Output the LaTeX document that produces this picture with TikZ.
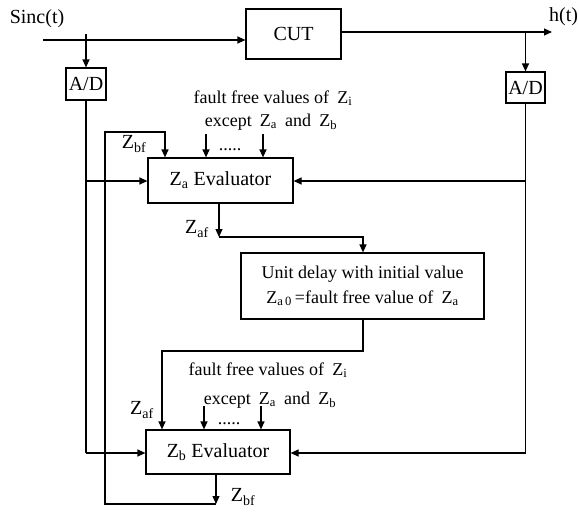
\documentclass[tikz,border=0pt]{standalone}
\usepackage{fontspec}
\setmainfont{Liberation Serif}
\usetikzlibrary{arrows.meta}
\newcommand{\wsp}{\hspace{0.45em}}
\tikzset{
  blk/.style={draw, line width=1.2pt, inner sep=0pt, minimum width=#1},
  lbl/.style={inner sep=0pt, font=\fontsize{20}{24}\selectfont},
  sml/.style={inner sep=0pt, font=\fontsize{18}{21}\selectfont},
  wire/.style={line width=1.2pt},
  arr/.style={line width=1.2pt, -{Triangle[length=8pt,width=7pt]}},
}
\begin{document}
\begin{tikzpicture}[x=1pt,y=-1pt]
\useasboundingbox (0,0) rectangle (579,514);
% blocks
\node[blk=95pt, minimum height=50pt, lbl] (cut) at (293.5,34) {CUT};
\node[blk=40pt, minimum height=32pt, lbl] (adl) at (86,84) {A/D};
\node[blk=39pt, minimum height=31pt, lbl] (adr) at (525.5,87.5) {A/D};
\node[blk=145pt, minimum height=45pt, lbl] (zae) at (220.5,180.5) {Z\textsubscript{a} Evaluator};
\node[blk=243pt, minimum height=66pt, sml, align=center] (ud) at (362.5,286)
  {Unit delay with initial value\\[4pt] Z\textsubscript{a\,0}\,=fault free value of\wsp Z\textsubscript{a}};
\node[blk=144pt, minimum height=44pt, lbl] (zbe) at (218,452) {Z\textsubscript{b} Evaluator};
% texts
\node[lbl] (sinc) at (37,19) {Sinc(t)};
\node[lbl, anchor=west] (ht) at (549,17) {h(t)};
\node[sml] (ffa) at (273,98) {fault free values of\wsp Z\textsubscript{i}};
\node[sml] (exa) at (271,122) {except\wsp Z\textsubscript{a}\wsp and\wsp Z\textsubscript{b}};
\node[lbl] (zbfa) at (134,144) {Z\textsubscript{bf}};
\node[sml, anchor=base] (dta) at (230,150) {.....};
\node[lbl] (zafa) at (197,229) {Z\textsubscript{af}};
\node[sml] (ffb) at (268,370) {fault free values of\wsp Z\textsubscript{i}};
\node[sml] (exb) at (270,400) {except\wsp Z\textsubscript{a}\wsp and\wsp Z\textsubscript{b}};
\node[lbl] (zafb) at (142,410) {Z\textsubscript{af}};
\node[sml, anchor=base] (dtb) at (229,424) {.....};
\node[lbl] (zbfb) at (243,497) {Z\textsubscript{bf}};
% coordinates
\coordinate (sin) at (43,40);
\coordinate (hout) at (552,32);
\coordinate (tapl) at (86,34);
\coordinate (tapr) at (525.5,32);
\coordinate (l1) at (86,181);
\coordinate (l2) at (86,453);
\coordinate (r1) at (525.5,181);
\coordinate (r2) at (525.5,453);
\coordinate (zbo) at (216,504);
\coordinate (lp1) at (105,504);
\coordinate (lp2) at (105,132);
\coordinate (lp3) at (165,132);
\coordinate (zao) at (219,237);
\coordinate (udi) at (363,237);
\coordinate (udo) at (363,351);
\coordinate (zbi) at (162,351);
\coordinate (ta1) at (206,134);
\coordinate (ta2) at (263,134);
\coordinate (tb1) at (204,406);
\coordinate (tb2) at (261,406);
% connectors
\draw[arr] (sin) -- (sin -| cut.west);
\draw[arr] (cut.east |- hout) -- (hout);
\draw[arr] (tapl) -- (adl.north);
\draw[arr] (tapr) -- (adr.north);
\draw[wire] (adl.south) -- (l2);
\draw[arr] (l1) -- (l1 -| zae.west);
\draw[arr] (l2) -- (l2 -| zbe.west);
\draw[wire] (adr.south) -- (r2);
\draw[arr] (r1) -- (r1 -| zae.east);
\draw[arr] (r2) -- (r2 -| zbe.east);
\draw[arr] (zbe.south -| zbo) -- (zbo);
\draw[arr] (zbo) -- (lp1) -- (lp2) -- (lp3) -- (lp3 |- zae.north);
\draw[arr] (zae.south -| zao) -- (zao);
\draw[arr] (zao) -- (udi) -- (udi |- ud.north);
\draw[arr] (ud.south -| udo) -- (udo) -- (zbi) -- (zbi |- zbe.north);
\draw[arr] (ta1) -- (ta1 |- zae.north);
\draw[arr] (ta2) -- (ta2 |- zae.north);
\draw[arr] (tb1) -- (tb1 |- zbe.north);
\draw[arr] (tb2) -- (tb2 |- zbe.north);
\end{tikzpicture}
\end{document}
